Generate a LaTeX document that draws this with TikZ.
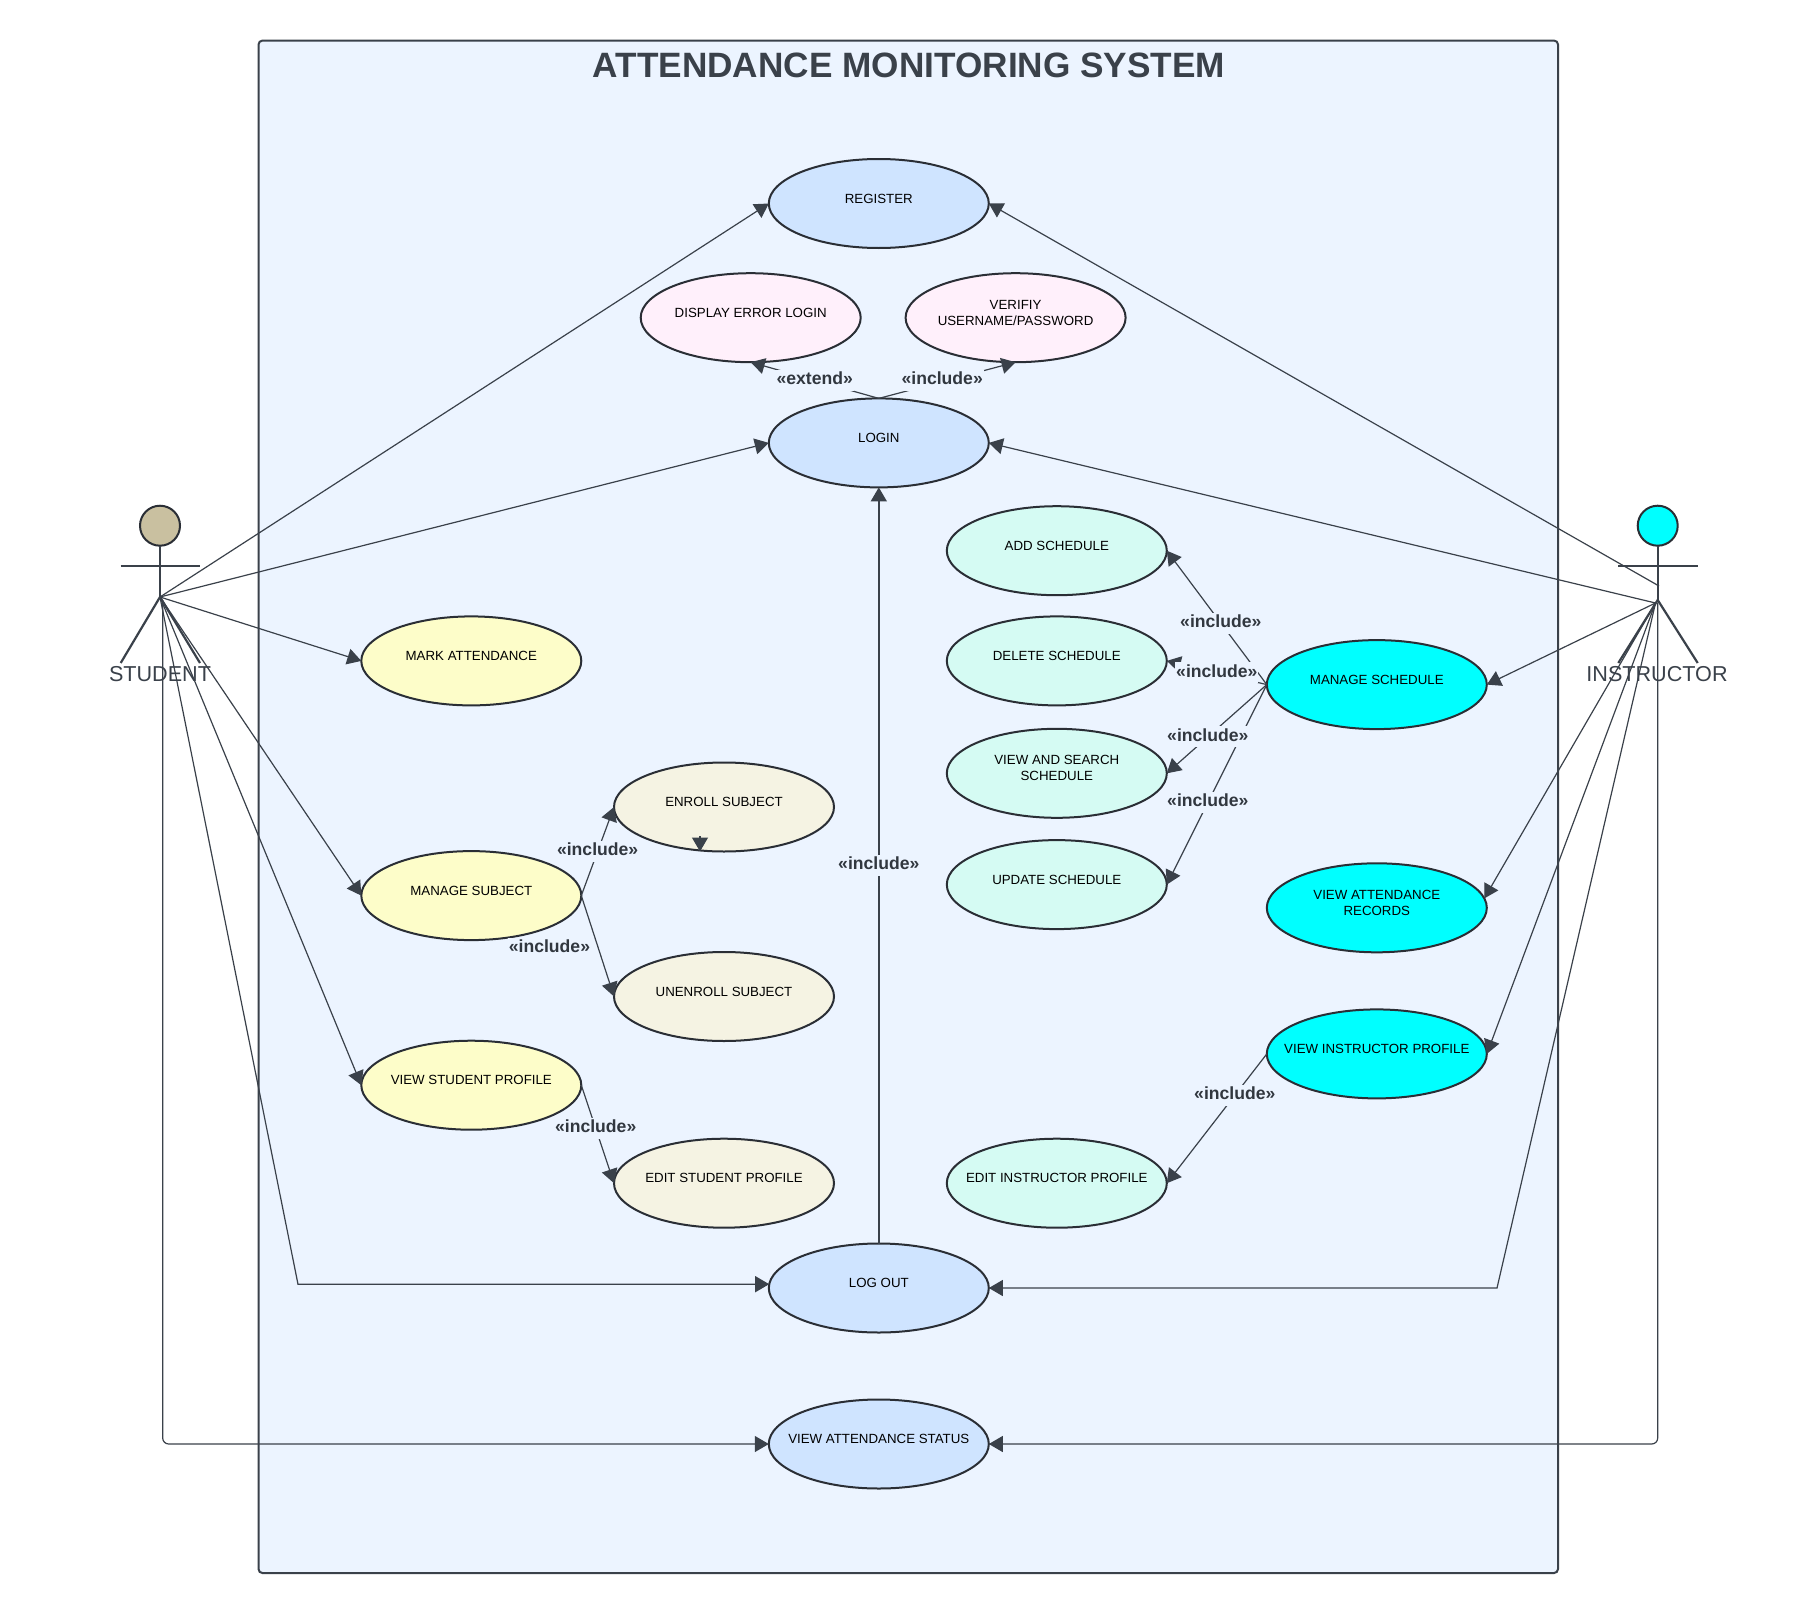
\documentclass[tikz,border=0pt]{standalone}
\usepackage{fontspec}
\setmainfont{Liberation Sans}
\usetikzlibrary{arrows.meta,positioning,shapes.geometric}

\definecolor{slate}{HTML}{3A414A}
\definecolor{rim}{HTML}{2A2E35}
\definecolor{panel}{HTML}{ECF4FF}
\definecolor{ucblue}{HTML}{CFE4FF}
\definecolor{ucpink}{HTML}{FFF0FB}
\definecolor{ucmint}{HTML}{D5FBF3}
\definecolor{ucyellow}{HTML}{FDFDC9}
\definecolor{ucbeige}{HTML}{F5F3E3}
\definecolor{uccyan}{HTML}{00FFFF}
\definecolor{headtan}{HTML}{C9C0A0}

% the ellipses keep their size whatever the text is
\newcommand{\ucname}[1]{\makebox[0pt]{\smash{\begin{tabular}[c]{@{}c@{}}#1\end{tabular}}}}

\begin{document}
\begin{tikzpicture}[
    x=1pt, y=-1pt,
    usecase/.style={ellipse, draw=rim, line width=2pt, minimum width=220pt, minimum height=89pt, inner sep=0pt, outer sep=0pt, font=\fontsize{13.3}{16}\selectfont},
    system/.style={rectangle, draw=slate, fill=panel, line width=2pt, rounded corners=4pt},
    head/.style={circle, draw=rim, line width=2pt, minimum size=40pt, inner sep=0pt, outer sep=0pt},
    limb/.style={draw=slate, line width=2.2pt},
    actor/.style={text=slate, font=\fontsize{21.6}{24}\selectfont, inner sep=0pt},
    assoc/.style={draw=slate, line width=1.2pt, -{Triangle[length=14pt, width=16pt]}},
    rel/.style={fill=panel, text=slate!85!black, font=\fontsize{17.6}{20}\bfseries\selectfont, inner xsep=1pt, inner ysep=0pt, text height=14.8pt, text depth=6.2pt}
]

\useasboundingbox (0,0) rectangle (1818,1614);
\node[system, minimum width=1299.5pt, minimum height=1532.5pt] (boundary) at (908.25,806.8) {};
\node[text=slate, font=\fontsize{35.2}{40}\bfseries\selectfont, inner sep=0pt] (title) at (909,65) {ATTENDANCE MONITORING SYSTEM};

% center column
\node[usecase, fill=ucblue] (register) at (878.8,203.5) {\ucname{REGISTER}};
\node[usecase, fill=ucblue, below=150.4pt of register] (login) {\ucname{LOGIN}};
\node[usecase, fill=ucblue, below=756.1pt of login] (logout) {\ucname{LOG OUT}};
\node[usecase, fill=ucblue, below=67pt of logout] (status) {\ucname{VIEW ATTENDANCE STATUS}};
\node[usecase, fill=ucpink] (error) at (750.7,317.7) {\ucname{DISPLAY ERROR LOGIN}};
\node[usecase, fill=ucpink, right=44.9pt of error] (verify) {\ucname{VERIFIY\\USERNAME/PASSWORD}};

% student side
\node[usecase, fill=ucyellow] (mark) at (471.3,660.9) {\ucname{MARK ATTENDANCE}};
\node[usecase, fill=ucyellow, below=145.7pt of mark] (subject) {\ucname{MANAGE SUBJECT}};
\node[usecase, fill=ucyellow, below=100.6pt of subject] (studprofile) {\ucname{VIEW STUDENT PROFILE}};
\node[usecase, fill=ucbeige] (enroll) at (724,807) {\ucname{ENROLL SUBJECT}};
\node[usecase, fill=ucbeige, below=100.5pt of enroll] (unenroll) {\ucname{UNENROLL SUBJECT}};
\node[usecase, fill=ucbeige, below=97.7pt of unenroll] (editstud) {\ucname{EDIT STUDENT PROFILE}};

% instructor side
\node[usecase, fill=ucmint] (addsched) at (1056.8,550.7) {\ucname{ADD SCHEDULE}};
\node[usecase, fill=ucmint, below=21.2pt of addsched] (delsched) {\ucname{DELETE SCHEDULE}};
\node[usecase, fill=ucmint, below=23.4pt of delsched] (viewsched) {\ucname{VIEW AND SEARCH\\SCHEDULE}};
\node[usecase, fill=ucmint, below=22.3pt of viewsched] (updsched) {\ucname{UPDATE SCHEDULE}};
\node[usecase, fill=ucmint, below=209.6pt of updsched] (editinstr) {\ucname{EDIT INSTRUCTOR PROFILE}};
\node[usecase, fill=uccyan] (mansched) at (1376.8,684.6) {\ucname{MANAGE SCHEDULE}};
\node[usecase, fill=uccyan, below=134.2pt of mansched] (records) {\ucname{VIEW ATTENDANCE\\RECORDS}};
\node[usecase, fill=uccyan, below=57.1pt of records] (instprofile) {\ucname{VIEW INSTRUCTOR PROFILE}};

% student actor
\node[head, fill=headtan] (studhead) at (160,525.7) {};
\coordinate (studhip) at (160,597);
\coordinate (studarml) at (120.7,565.7);
\coordinate (studarmr) at (200,565.7);
\coordinate (studlegl) at (120.7,663);
\coordinate (studlegr) at (200,663);
\coordinate (studdrop) at (162.7,600);
\coordinate (studcorner) at (162.7,1444);
\coordinate (studbend) at (298,1284.2);
\draw[limb] (studhead) -- (studhip);
\draw[limb] (studarml) -- (studarmr);
\draw[limb] (studlegl) -- (studhip) -- (studlegr);
\node[actor] (student) at (160,674) {STUDENT};

% instructor actor
\node[head, fill=uccyan] (insthead) at (1657.7,525.7) {};
\coordinate (insthip) at (1657.7,600);
\coordinate (instneck) at (1659,586);
\coordinate (insthub) at (1655.5,603);
\coordinate (instarml) at (1618.3,565.7);
\coordinate (instarmr) at (1697.7,565.7);
\coordinate (instlegl) at (1618.3,663);
\coordinate (instlegr) at (1697.7,663);
\coordinate (instdrop) at (1657.7,603);
\coordinate (instcorner) at (1657.7,1444);
\coordinate (instbend) at (1497,1288);
\draw[limb] (insthead) -- (insthip);
\draw[limb] (instarml) -- (instarmr);
\draw[limb] (instlegl) -- (insthip) -- (instlegr);
\node[actor] (instructor) at (1657,674) {INSTRUCTOR};

% student links
\draw[assoc] (studhip) -- (register.west);
\draw[assoc] (studhip) -- (login.west);
\draw[assoc] (studhip) -- (mark.west);
\draw[assoc] (studhip) -- (subject.west);
\draw[assoc] (studhip) -- (studprofile.west);
\draw[assoc] (studhip) -- (studbend) -- (logout.178);
\draw[assoc, rounded corners=6pt] (studdrop) -- (studcorner) -- (status.west);

% instructor links
\draw[assoc] (instneck) -- (register.east);
\draw[assoc] (insthub) -- (login.east);
\draw[assoc] (insthub) -- (mansched.east);
\draw[assoc] (insthub) -- (records.5);
\draw[assoc] (insthub) -- (instprofile.east);
\draw[assoc] (insthub) -- (instbend) -- (logout.east);
\draw[assoc, rounded corners=6pt] (instdrop) -- (instcorner) -- (status.east);

% include and extend
\draw[assoc] (login.north) -- node[rel, midway] {<<extend>>} (error.south);
\draw[assoc] (login.north) -- node[rel, midway, xshift=-5pt] {<<include>>} (verify.south);
\draw[assoc, line width=1.6pt] (logout.north) -- node[rel, midway] {<<include>>} (login.south);
\draw[assoc] (subject.east) -- node[rel, midway] {<<include>>} (enroll.west);
\draw[assoc] (subject.east) -- node[rel, midway, left=6pt, yshift=-2pt] {<<include>>} (unenroll.west);
\draw[assoc] (studprofile.east) -- node[rel, pos=.44] {<<include>>} (editstud.west);
\coordinate (enrollstub) at (700,836);
\draw[assoc] (enrollstub) -- (enrollstub |- enroll.south);
\draw[assoc] (mansched.west) -- node[rel, pos=.46] {<<include>>} (addsched.east);
\draw[assoc] (mansched.west) -- node[rel, pos=.59] {<<include>>} (updsched.east);
\draw[assoc] (mansched.west) -- node[rel, midway] {<<include>>} (delsched.east);
\draw[assoc] (mansched.west) -- node[rel, pos=.59] {<<include>>} (viewsched.east);
\draw[assoc] (instprofile.west) -- node[rel, pos=.32] {<<include>>} (editinstr.east);

\end{tikzpicture}
\end{document}
